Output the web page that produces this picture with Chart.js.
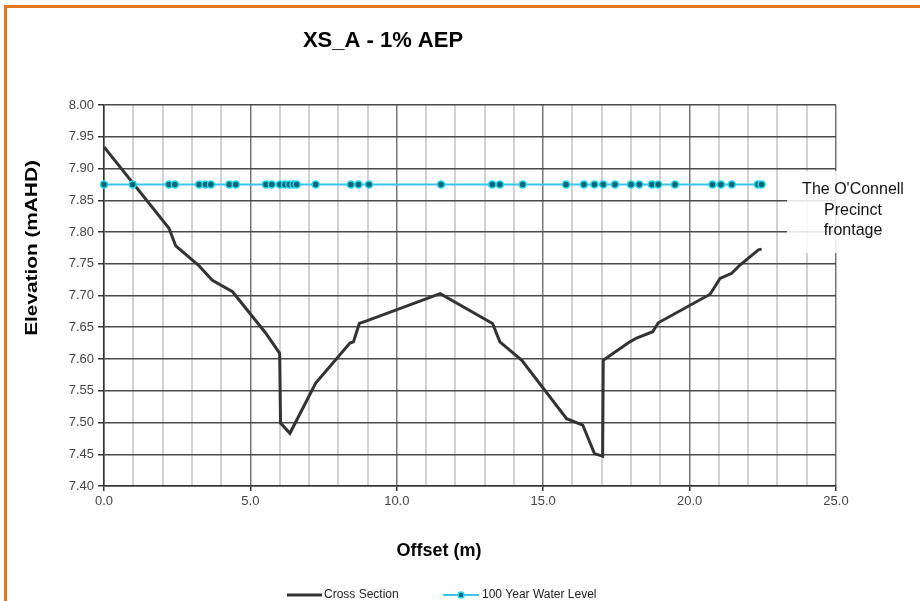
<!DOCTYPE html>
<html>
<head>
<meta charset="utf-8">
<script src="https://cdn.jsdelivr.net/npm/chart.js@4"></script>
<style>
  html, body { margin: 0; padding: 0; background: #fff; }
  #wrap { width: 920px; height: 601px; }
</style>
</head>
<body>
<div id="wrap"><canvas id="xsChart" width="920" height="601"></canvas></div>
<script>
// cross section survey points (offset m, elevation mAHD)
var xsOffset = [0.00, 2.22, 2.45, 3.22, 3.70, 4.39, 5.52, 6.00, 6.03, 6.35, 7.23, 8.40, 8.52,
    8.72, 8.97, 11.48, 13.27, 13.52, 14.27, 15.80, 16.35, 16.75, 17.03, 17.05, 17.96,
    18.19, 18.74, 18.93, 20.70, 21.04, 21.44, 21.72, 22.35, 22.46];
var xsElev = [7.934, 7.806, 7.778, 7.748, 7.724, 7.706, 7.641, 7.609, 7.499, 7.483, 7.562, 7.625, 7.627,
    7.656, 7.660, 7.703, 7.656, 7.627, 7.598, 7.506, 7.496, 7.451, 7.447, 7.598, 7.627,
    7.633, 7.643, 7.657, 7.702, 7.727, 7.735, 7.748, 7.772, 7.773];

// 100 year water level, sampled at these offsets
var wlOffset = [0.00, 0.98, 2.22, 2.42, 3.25, 3.47, 3.65, 4.28, 4.50, 5.53, 5.73, 6.01, 6.18,
    6.33, 6.47, 6.58, 7.23, 8.43, 8.69, 9.05, 11.51, 13.26, 13.52, 14.30, 15.78, 16.39,
    16.75, 17.05, 17.45, 18.00, 18.28, 18.71, 18.93, 19.50, 20.78, 21.07, 21.44, 22.33, 22.46];
var wlLevel = 7.875;

var xTickLabels = ['0.0', '5.0', '10.0', '15.0', '20.0', '25.0'];
var seriesNames = ['Cross Section', '100 Year Water Level'];
var titleText = 'XS_A - 1% AEP';
var xTitle = 'Offset (m)';
var yTitle = 'Elevation (mAHD)';
var noteLines = ["The O'Connell", 'Precinct', 'frontage'];

var FONT = '"Liberation Sans", Arial, sans-serif';
var lineCol = '#333333';
var waterCol = '#3cc4ee';
var dotFill = '#0b6676';
var dotEdge = '#25d6ea';

var xsPoints = xsOffset.map(function (x, i) { return { x: x, y: xsElev[i] }; });
var wlPoints = wlOffset.map(function (x) { return { x: x, y: wlLevel }; });

// background, frame, titles, note box and legend
var decor = {
    id: 'decor',
    beforeDraw: function (chart) {
        var c = chart.ctx;
        c.save();
        c.fillStyle = '#fff';
        c.fillRect(0, 0, chart.width, chart.height);
        c.strokeStyle = '#e8761e';
        c.lineWidth = 3;
        c.beginPath();
        c.moveTo(5.5, chart.height);
        c.lineTo(5.5, 6.5);
        c.lineTo(chart.width, 6.5);
        c.stroke();
        c.restore();
    },
    afterDraw: function (chart) {
        var c = chart.ctx;
        c.save();
        c.fillStyle = '#000';
        c.textAlign = 'center';
        c.textBaseline = 'middle';

        c.font = 'bold 22px ' + FONT;
        c.fillText(titleText, 383, 41);

        c.font = 'bold 18px ' + FONT;
        c.fillText(xTitle, 439, 551);

        c.save();
        c.translate(33, 248);
        c.rotate(-Math.PI / 2);
        c.scale(1.3, 1);
        c.font = 'bold 16px ' + FONT;
        c.fillText(yTitle, 0, 0);
        c.restore();

        // note box over the right edge of the plot
        c.fillStyle = 'rgba(255,255,255,0.85)';
        c.fillRect(787, 171, 125, 82);
        c.fillStyle = '#111';
        c.font = '16px ' + FONT;
        noteLines.forEach(function (t, i) {
            c.fillText(t, 853, 190 + i * 20.5);
        });

        // legend
        var ly = 595;
        c.font = '12px ' + FONT;
        c.textAlign = 'left';
        c.strokeStyle = lineCol;
        c.lineWidth = 3;
        c.beginPath();
        c.moveTo(287, ly);
        c.lineTo(322, ly);
        c.stroke();
        c.fillStyle = '#222';
        c.fillText(seriesNames[0], 324, ly);

        c.strokeStyle = waterCol;
        c.lineWidth = 2;
        c.beginPath();
        c.moveTo(443, ly);
        c.lineTo(479, ly);
        c.stroke();
        c.beginPath();
        c.arc(461, ly, 3, 0, Math.PI * 2);
        c.fillStyle = dotFill;
        c.fill();
        c.strokeStyle = dotEdge;
        c.lineWidth = 1.5;
        c.stroke();
        c.fillStyle = '#222';
        c.fillText(seriesNames[1], 482, ly);
        c.restore();
    }
};

var ctx = document.getElementById('xsChart').getContext('2d');
var chart = new Chart(ctx, {
    type: 'scatter',
    data: {
        datasets: [{
            label: seriesNames[0],
            data: xsPoints,
            showLine: true,
            borderColor: lineCol,
            borderWidth: 3,
            pointRadius: 0,
            tension: 0,
            order: 2
        }, {
            label: seriesNames[1],
            data: wlPoints,
            showLine: true,
            borderColor: waterCol,
            borderWidth: 2,
            pointStyle: 'circle',
            pointRadius: 3.5,
            pointBackgroundColor: dotFill,
            pointBorderColor: dotEdge,
            pointBorderWidth: 1.5,
            clip: false,
            order: 1
        }]
    },
    options: {
        responsive: false,
        animation: false,
        events: [],
        layout: {
            padding: { top: 105, right: 84, left: 0, bottom: 0 }
        },
        plugins: {
            legend: { display: false },
            title: { display: false },
            tooltip: { enabled: false }
        },
        scales: {
            x: {
                type: 'linear',
                min: 0,
                max: 25,
                afterFit: function (s) { s.height = 115; },
                ticks: {
                    stepSize: 1,
                    autoSkip: false,
                    maxRotation: 0,
                    padding: 3,
                    color: '#444',
                    font: { family: FONT, size: 13 },
                    callback: function (v) {
                        return v % 5 === 0 ? xTickLabels[v / 5] : '';
                    }
                },
                grid: {
                    color: function (c) {
                        return c.tick && c.tick.value % 5 === 0 ? '#777' : '#d2d2d2';
                    },
                    lineWidth: function (c) {
                        return c.tick && c.tick.value % 5 === 0 ? 1.5 : 2;
                    },
                    tickColor: function (c) {
                        return c.tick && c.tick.value % 5 === 0 ? '#333' : 'rgba(0,0,0,0)';
                    },
                    tickLength: 5
                },
                border: { color: '#333', width: 1.5 }
            },
            y: {
                min: 7.4,
                max: 8.0,
                afterFit: function (s) { s.width = 104; },
                ticks: {
                    stepSize: 0.05,
                    padding: 4,
                    color: '#444',
                    font: { family: FONT, size: 13 },
                    callback: function (v) { return v.toFixed(2); }
                },
                grid: {
                    color: '#4a4a4a',
                    lineWidth: 1.5,
                    tickColor: '#333',
                    tickLength: 6
                },
                border: { color: '#333', width: 1.5 }
            }
        }
    },
    plugins: [decor]
});
</script>
</body>
</html>
